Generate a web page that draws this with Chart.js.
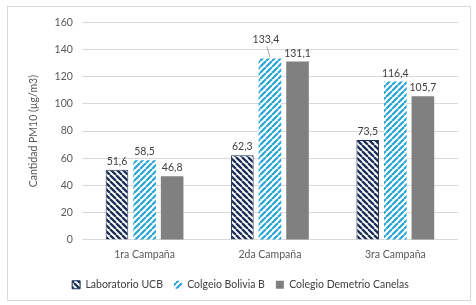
<!DOCTYPE html>
<html>
<head>
<meta charset="utf-8">
<script src="https://cdn.jsdelivr.net/npm/chart.js@4"></script>
<style>
  html, body { margin: 0; padding: 0; background: #fff; }
  #box { position: absolute; left: 7px; top: 6px; width: 462px; height: 293px; border: 1px solid #d9d9d9; }
  canvas { display: block; }
</style>
</head>
<body>
<div id="box"><canvas id="myChart" width="462" height="293"></canvas></div>
<script>
var campaigns = ['1ra Campaña', '2da Campaña', '3ra Campaña'];
var laboratorioUCB = [51.6, 62.3, 73.5];
var colegioBolivia = [58.5, 133.4, 116.4];
var colegioCanelas = [46.8, 131.1, 105.7];
var yTicks = [0, 20, 40, 60, 80, 100, 120, 140, 160];

var FONT = 'Lato, "Open Sans", sans-serif';
var SIZE = 10.5;

// hatch fill for the striped bars
function stripes(color, dir, lw, size) {
  var c = document.createElement('canvas');
  c.width = size; c.height = size;
  var g = c.getContext('2d');
  g.fillStyle = '#ffffff';
  g.fillRect(0, 0, size, size);
  g.strokeStyle = color;
  g.lineWidth = lw;
  g.beginPath();
  for (var k = -size; k <= size; k += size) {
    if (dir === 'down') { g.moveTo(k, 0); g.lineTo(k + size, size); }
    else { g.moveTo(k, size); g.lineTo(k + size, 0); }
  }
  g.stroke();
  return g.createPattern(c, 'repeat');
}

var ctx = document.getElementById('myChart').getContext('2d');
var navyHatch = stripes('#1c3057', 'down', 2.3, 6);
var blueHatch = stripes('#28a4d4', 'up', 2.2, 6);

function fmt(v) { return v.toFixed(1).replace('.', ','); }

var valueLabels = {
  id: 'valueLabels',
  afterDatasetsDraw: function (chart) {
    var c = chart.ctx;
    c.save();
    c.font = SIZE + 'px ' + FONT;
    c.fillStyle = '#404040';
    c.textAlign = 'center';
    c.textBaseline = 'bottom';
    chart.data.datasets.forEach(function (ds, i) {
      chart.getDatasetMeta(i).data.forEach(function (bar, j) {
        var v = ds.data[j];
        if (i === 1 && j === 1) {
          // this one sits a bit higher with a leader line
          c.fillText(fmt(v), bar.x - 4, bar.y - 14);
          c.strokeStyle = '#a6a6a6';
          c.lineWidth = 1;
          c.beginPath();
          c.moveTo(bar.x - 3, bar.y - 12);
          c.lineTo(bar.x, bar.y - 1);
          c.stroke();
        } else {
          c.fillText(fmt(v), bar.x, bar.y - 3);
        }
      });
    });
    c.restore();
  }
};

var myChart = new Chart(ctx, {
  type: 'bar',
  data: {
    labels: campaigns,
    datasets: [{
      label: 'Laboratorio UCB',
      data: laboratorioUCB,
      backgroundColor: navyHatch,
      borderColor: '#1c3057',
      borderWidth: 1
    }, {
      label: 'Colgeio Bolivia B',
      data: colegioBolivia,
      backgroundColor: blueHatch,
      borderColor: 'rgba(0,0,0,0)',
      borderWidth: 0
    }, {
      label: 'Colegio Demetrio Canelas',
      data: colegioCanelas,
      backgroundColor: '#808080',
      borderWidth: 0
    }]
  },
  options: {
    responsive: false,
    animation: false,
    categoryPercentage: 0.66,
    barPercentage: 0.82,
    layout: { padding: { top: 8, right: 12, left: 15, bottom: 0 } },
    plugins: {
      legend: {
        position: 'bottom',
        labels: {
          boxWidth: 8,
          boxHeight: 8,
          padding: 11,
          color: '#404040',
          font: { family: FONT, size: SIZE }
        }
      },
      tooltip: { enabled: false }
    },
    scales: {
      y: {
        min: 0,
        max: 160,
        afterBuildTicks: function (axis) {
          axis.ticks = yTicks.map(function (v) { return { value: v }; });
        },
        grid: { color: '#d9d9d9', drawTicks: false },
        border: { display: false },
        ticks: {
          padding: 9,
          color: '#595959',
          font: { family: FONT, size: SIZE }
        },
        title: {
          display: true,
          text: 'Cantidad PM10 (µg/m3)',
          color: '#595959',
          padding: { top: 4, bottom: 6 },
          font: { family: FONT, size: SIZE }
        }
      },
      x: {
        grid: { display: false, drawTicks: false },
        border: { display: false },
        ticks: {
          color: '#595959',
          padding: 8,
          font: { family: FONT, size: SIZE }
        }
      }
    }
  },
  plugins: [valueLabels]
});
</script>
</body>
</html>
